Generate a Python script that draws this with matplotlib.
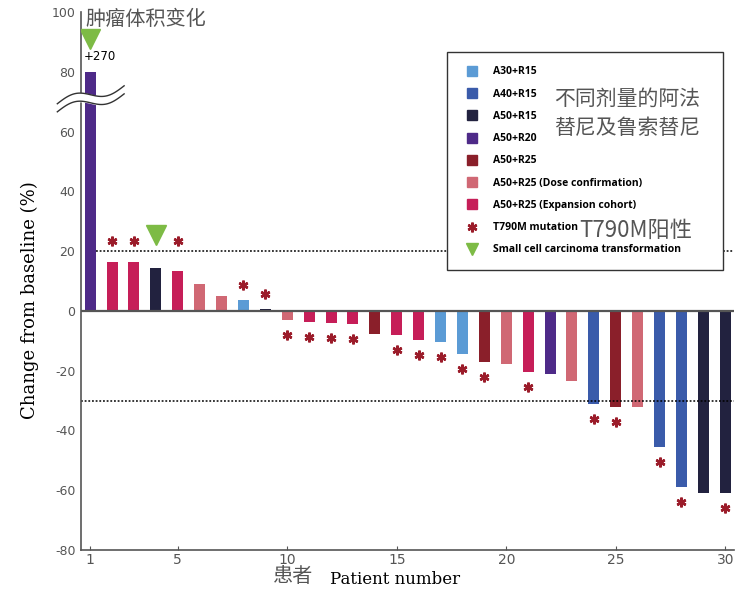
import numpy as np
import matplotlib
matplotlib.use("Agg")
import matplotlib.pyplot as plt
from matplotlib.lines import Line2D

plt.rcParams["axes.unicode_minus"] = False

# dose groups and their colours
groups = ["A30+R15", "A40+R15", "A50+R15", "A50+R20", "A50+R25",
          "A50+R25 (Dose confirmation)", "A50+R25 (Expansion cohort)"]
group_colors = ["#5B9BD5", "#3A5BAA", "#22223F", "#4E2A88", "#8A1F2A",
                "#D06874", "#C61E58"]

# per patient: best change from baseline (%) and dose group index
patients = list(range(1, 31))
change = [270, 16.2, 16.2, 14.5, 13.5, 9.0, 5.0, 3.5, 0.5, -3.0,
          -3.8, -4.1, -4.5, -7.8, -8.2, -9.9, -10.3, -14.4, -17.2, -17.9,
          -20.5, -21.2, -23.6, -31.2, -32.2, -32.2, -45.6, -59.0, -61.0, -61.0]
group_idx = [3, 6, 6, 2, 6, 5, 5, 0, 2, 5,
             6, 6, 6, 4, 6, 6, 0, 0, 4, 5,
             6, 3, 5, 1, 4, 5, 1, 1, 2, 2]
t790m = [2, 3, 5, 8, 9, 10, 11, 12, 13, 15, 16, 17, 18, 19, 21, 24, 25, 27, 28, 30]
sclc = [1, 4]

y_cap = 80          # axis is broken above this value
yticks = list(range(-80, 101, 20))
xticks = [1, 5, 10, 15, 20, 25, 30]

star_color = "#9B1C2A"
tri_color = "#7DBB45"
grey = "#555555"

fig = plt.figure(figsize=(7.47, 5.96), dpi=100)
ax = fig.add_axes([0.1084, 0.0772, 0.8742, 0.9027])

vals = np.array(change, dtype=float)
shown = np.minimum(vals, y_cap)
x = np.array(patients)
ax.bar(x, shown, width=0.5, color=[group_colors[g] for g in group_idx], zorder=2)

ax.set_xlim(0.58, 30.4)
ax.set_ylim(-80, 100)

# zero line and threshold lines
ax.axhline(0, color=grey, lw=1.6, zorder=3)
ax.hlines(20, 1.27, 30.4, colors="black", linestyles=(0, (1.2, 1.2)), lw=1.1)
ax.hlines(-30, 0.58, 30.4, colors="black", linestyles=(0, (1.2, 1.2)), lw=1.1)

# T790M markers
ti = np.array(t790m) - 1
top = shown[ti]
sy = np.where(top > 12, 23.5, np.where(top > 0, top + 5, top - 5))
ax.plot(x[ti], sy, ls="none", marker=(6, 2, 0), ms=7, mew=1.8,
        color=star_color, zorder=4)

# small cell transformation markers
si = np.array(sclc) - 1
ax.plot(x[si], shown[si] + 11, ls="none", marker="v", ms=14,
        color=tri_color, mec=tri_color, zorder=4)
ax.text(0.72, 85, "+%d" % change[0], fontsize=8.5, va="center", ha="left")

# axis break on the first bar
t = np.linspace(0, 1, 60)
bx = -0.5 + 3.05 * t
by = 66.6 + 6.0 * t + 1.8 * np.sin(2 * np.pi * t)
ax.fill_between(bx, by, by + 2.7, color="white", zorder=5, clip_on=False)
ax.plot(bx, by, color="#333333", lw=1.0, zorder=6, clip_on=False)
ax.plot(bx, by + 2.7, color="#333333", lw=1.0, zorder=6, clip_on=False)

# spines and ticks
for s in ["top", "right"]:
    ax.spines[s].set_visible(False)
for s in ["left", "bottom"]:
    ax.spines[s].set_color(grey)
    ax.spines[s].set_linewidth(1.2)
ax.set_yticks(yticks)
ax.set_xticks(xticks)
ax.tick_params(axis="y", length=0, pad=4, labelsize=9, labelcolor=grey)
ax.tick_params(axis="x", direction="in", length=3, color=grey, pad=2,
               labelsize=10, labelcolor=grey)

fig.text(0.040, 0.497, "Change from baseline (%)", family="DejaVu Serif", fontsize=13,
         rotation=90, ha="center", va="center")
fig.text(0.5295, 0.027, "Patient number", family="DejaVu Serif", fontsize=12,
         ha="center", va="center")

# legend
handles = [Line2D([], [], ls="none", marker="s", ms=7, color=c) for c in group_colors]
handles.append(Line2D([], [], ls="none", marker=(6, 2, 0), ms=7, mew=1.8, color=star_color))
handles.append(Line2D([], [], ls="none", marker="v", ms=8, color=tri_color))
labels = groups + ["T790M mutation", "Small cell carcinoma transformation"]
leg = ax.legend(handles, labels, loc="upper left", mode="expand",
                bbox_to_anchor=(0.598, 0.05, 0.370, 0.863), bbox_transform=fig.transFigure,
                prop={"family": "Open Sans", "weight": "bold", "size": 7.5},
                frameon=True, fancybox=False, framealpha=1, borderpad=1.4,
                handletextpad=1.0, labelspacing=1.08, borderaxespad=0)
leg.get_frame().set_edgecolor("#333333")
leg.get_frame().set_linewidth(1.0)

# chinese annotations
cjk = ["Noto Sans CJK SC", "DejaVu Sans"]
fig.text(0.115, 0.967, "肿瘤体积变化", family=cjk, fontsize=14.5, color=grey, va="center")
fig.text(0.742, 0.810, "不同剂量的阿法\n替尼及鲁索替尼", family=cjk, fontsize=15,
         color=grey, va="center", linespacing=1.4)
fig.text(0.776, 0.614, "T790M阳性", family=cjk, fontsize=16, color=grey, va="center")
fig.text(0.366, 0.032, "患者", family=cjk, fontsize=14.5, color=grey, va="center")

fig.savefig("out.png", dpi=100)
